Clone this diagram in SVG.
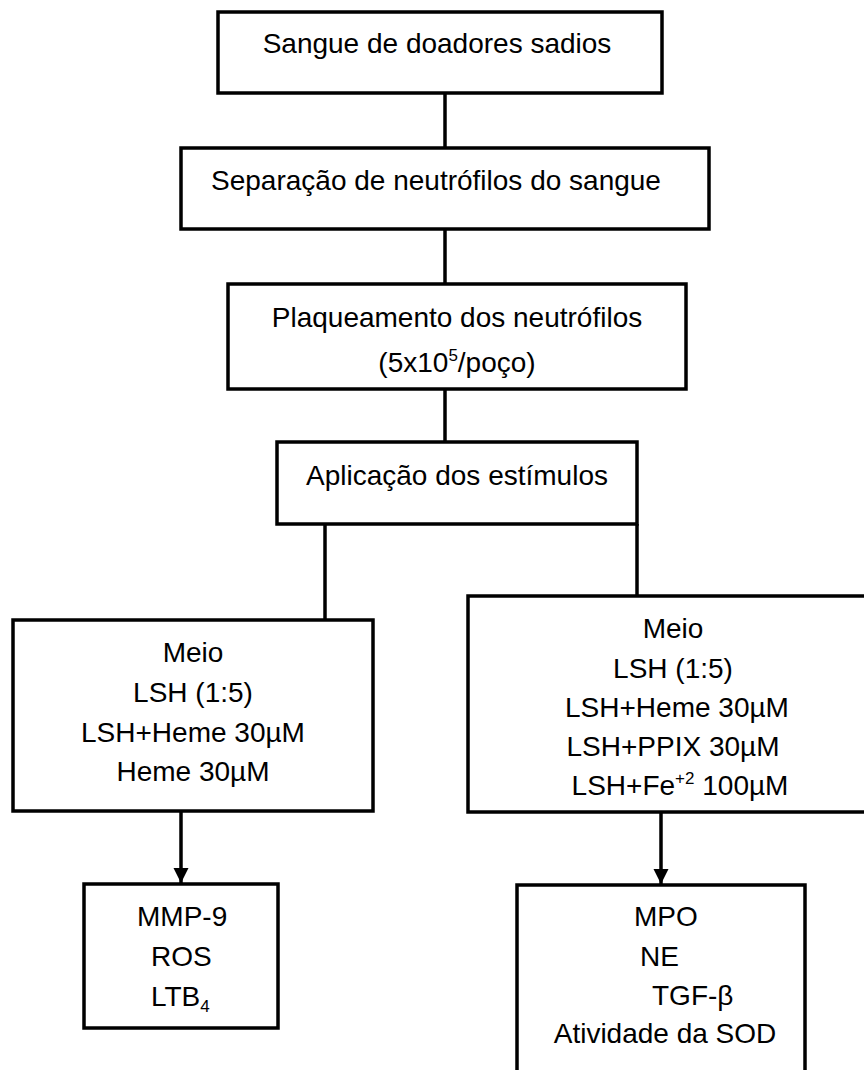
<svg xmlns="http://www.w3.org/2000/svg" width="864" height="1070" viewBox="0 0 864 1070">
<style>
.box{fill:#fff;stroke:#000;stroke-width:3.5}
.ln{fill:none;stroke:#000;stroke-width:3.5}
text{font-family:"Liberation Sans",Arial,sans-serif;font-size:28px;fill:#000}
.c{text-anchor:middle}
.sup{font-size:17px}
</style>
<defs>
<marker id="ah" markerUnits="userSpaceOnUse" markerWidth="16" markerHeight="16" refX="15" refY="8" orient="auto">
<path d="M0,0.5 L15,8 L0,15.5 z" fill="#000"/>
</marker>
</defs>
<rect width="864" height="1070" fill="#fff"/>
<g id="connectors">
<line class="ln" x1="445" y1="93" x2="445" y2="148"/>
<line class="ln" x1="445" y1="229" x2="445" y2="284"/>
<line class="ln" x1="445" y1="389" x2="445" y2="442"/>
<line class="ln" x1="325" y1="524" x2="325" y2="620"/>
<line class="ln" x1="637" y1="524" x2="637" y2="596"/>
<line class="ln" x1="181" y1="811" x2="181" y2="883" marker-end="url(#ah)"/>
<line class="ln" x1="661" y1="812" x2="661" y2="884" marker-end="url(#ah)"/>
</g>
<g id="n1">
<rect class="box" x="218" y="12" width="444" height="81"/>
<text class="c" x="437" y="53">Sangue de doadores sadios</text>
</g>
<g id="n2">
<rect class="box" x="181" y="148" width="528" height="81"/>
<text class="c" x="436" y="190">Separação de neutrófilos do sangue</text>
</g>
<g id="n3">
<rect class="box" x="228" y="284" width="458" height="105"/>
<text class="c" x="457" y="327">Plaqueamento dos neutrófilos</text>
<text class="c" x="457" y="372">(5x10<tspan class="sup" dy="-11">5</tspan><tspan dy="11">/poço)</tspan></text>
</g>
<g id="n4">
<rect class="box" x="277" y="442" width="360" height="82"/>
<text class="c" x="457" y="485">Aplicação dos estímulos</text>
</g>
<g id="n5">
<rect class="box" x="13" y="620" width="360" height="191"/>
<text class="c" x="193" y="662">Meio</text>
<text class="c" x="193" y="702">LSH (1:5)</text>
<text class="c" x="193" y="742">LSH+Heme 30µM</text>
<text class="c" x="193" y="781">Heme 30µM</text>
</g>
<g id="n6">
<rect class="box" x="468" y="596" width="420" height="216"/>
<text class="c" x="673" y="638">Meio</text>
<text class="c" x="673" y="678">LSH (1:5)</text>
<text class="c" x="677" y="717">LSH+Heme 30µM</text>
<text class="c" x="673" y="756">LSH+PPIX 30µM</text>
<text class="c" x="680" y="795">LSH+Fe<tspan class="sup" dy="-11">+2</tspan><tspan dy="11"> 100µM</tspan></text>
</g>
<g id="n7">
<rect class="box" x="84" y="884" width="194" height="144"/>
<text x="137" y="926">MMP-9</text>
<text x="151" y="966">ROS</text>
<text x="151" y="1006">LTB<tspan class="sup" dy="6">4</tspan></text>
</g>
<g id="n8">
<rect class="box" x="517" y="885" width="288" height="200"/>
<text x="634" y="926">MPO</text>
<text x="640" y="966">NE</text>
<text x="652" y="1005">TGF-β</text>
<text class="c" x="665" y="1043">Atividade da SOD</text>
</g>
</svg>
